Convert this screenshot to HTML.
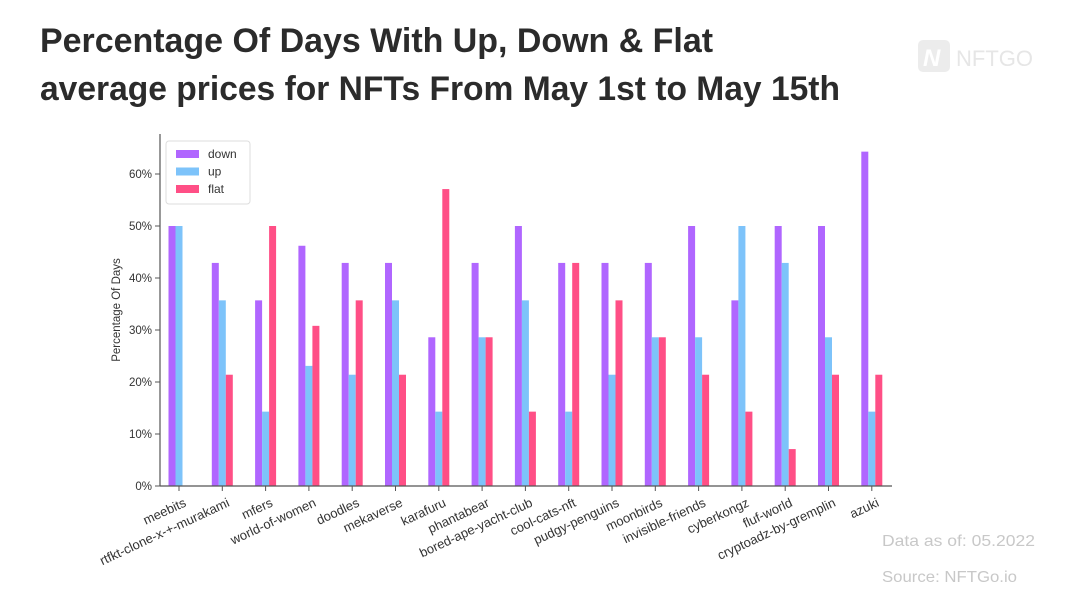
<!DOCTYPE html>
<html><head><meta charset="utf-8"><style>
body{margin:0;background:#fff;width:1080px;height:608px;overflow:hidden;font-family:"Liberation Sans",sans-serif}
</style></head><body>
<svg width="1080" height="608" xmlns="http://www.w3.org/2000/svg" font-family="Liberation Sans, sans-serif">
<text x="40" y="52" font-size="34" font-weight="bold" fill="#2b2b2b" textLength="673" lengthAdjust="spacingAndGlyphs">Percentage Of Days With Up, Down &amp; Flat</text>
<text x="40" y="100" font-size="34" font-weight="bold" fill="#2b2b2b" textLength="800" lengthAdjust="spacingAndGlyphs">average prices for NFTs From May 1st to May 15th</text>
<rect x="918" y="40" width="32" height="32" rx="5" fill="#ececec"/>
<text x="923" y="66" font-size="24" font-weight="bold" font-style="italic" fill="#fff">N</text>
<text x="956" y="66" font-size="22" fill="#e6e6e6">NFTGO</text>
<text x="882" y="546" font-size="16" fill="#c8c8c8" textLength="153" lengthAdjust="spacingAndGlyphs">Data as of: 05.2022</text>
<text x="882" y="582" font-size="16" fill="#c8c8c8" textLength="135" lengthAdjust="spacingAndGlyphs">Source: NFTGo.io</text>
<g id="chart"></g>
</svg>
<script>
const d=[["meebits",50,50,0],["rtfkt-clone-x-+-murakami",42.9,35.7,21.4],["mfers",35.7,14.3,50],["world-of-women",46.2,23.1,30.8],["doodles",42.9,21.4,35.7],["mekaverse",42.9,35.7,21.4],["karafuru",28.6,14.3,57.1],["phantabear",42.9,28.6,28.6],["bored-ape-yacht-club",50,35.7,14.3],["cool-cats-nft",42.9,14.3,42.9],["pudgy-penguins",42.9,21.4,35.7],["moonbirds",42.9,28.6,28.6],["invisible-friends",50,28.6,21.4],["cyberkongz",35.7,50,14.3],["fluf-world",50,42.9,7.1],["cryptoadz-by-gremplin",50,28.6,21.4],["azuki",64.3,14.3,21.4]];
const cols=["#b066ff","#7dc3fa","#ff4f86"];
let s="";const y0=486,k=5.2;
for(let p=0;p<=60;p+=10){const y=y0-p*k;s+=`<line x1="155" y1="${y}" x2="160" y2="${y}" stroke="#555"/><text x="152" y="${y+4}" font-size="11.5" text-anchor="end" fill="#333">${p}%</text>`;}
d.forEach((r,i)=>{const c=179+i*43.3;for(let j=0;j<3;j++){const h=r[j+1]*k;if(h>0)s+=`<rect x="${c-10.5+j*7}" y="${y0-h}" width="7" height="${h}" fill="${cols[j]}"/>`;}
s+=`<line x1="${c}" y1="486" x2="${c}" y2="491" stroke="#555"/><text transform="translate(${c+4},${497}) rotate(-25)" font-size="13" text-anchor="end" dominant-baseline="hanging" fill="#333">${r[0]}</text>`;});
s+=`<line x1="160" y1="134" x2="160" y2="486" stroke="#555" stroke-width="1.2"/><line x1="160" y1="486" x2="892" y2="486" stroke="#555" stroke-width="1.2"/>`;
s+=`<text transform="translate(120,310) rotate(-90)" font-size="11.5" text-anchor="middle" fill="#333">Percentage Of Days</text>`;
s+=`<rect x="166" y="141" width="84" height="63" rx="3" fill="#fff" stroke="#ddd"/>`;
["down","up","flat"].forEach((n,j)=>{const y=150+j*17.5;s+=`<rect x="176" y="${y}" width="23" height="8" fill="${cols[j]}"/><text x="208" y="${y+8}" font-size="12" fill="#333">${n}</text>`;});
document.getElementById("chart").innerHTML=s;
</script>
</body></html>
